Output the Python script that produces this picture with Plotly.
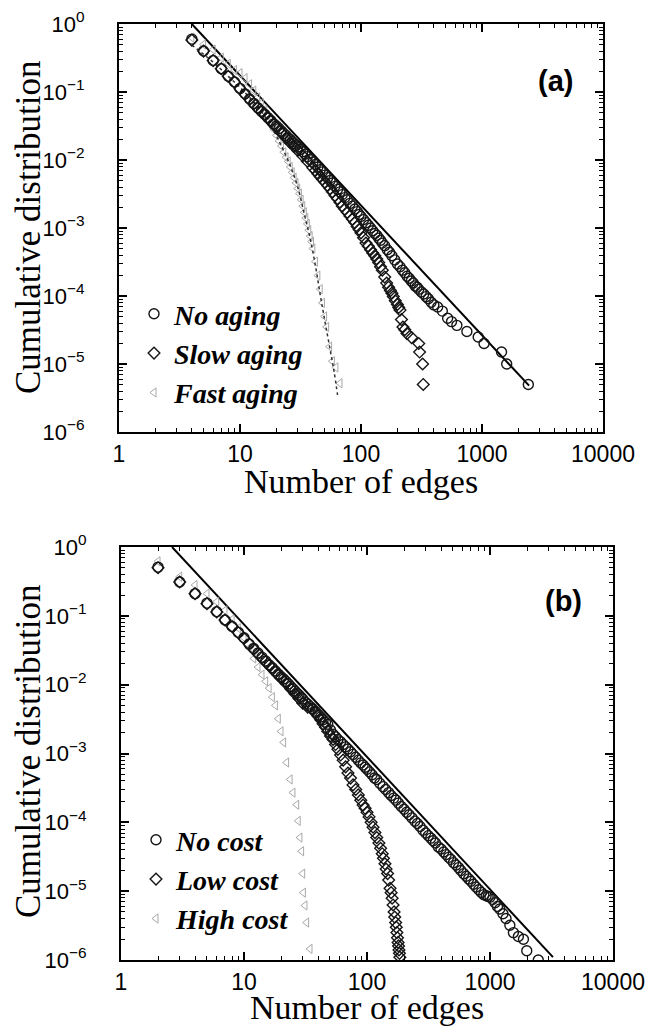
import plotly.graph_objects as go

# The page body adds an 8 px margin, so the figure is drawn 8 px smaller
# and all layout positions below are given in the reference's screen pixels.
OFF = 8
W, H = 657 - OFF, 1030 - OFF

def px(x):
    return (x - OFF) / W

def py(y):
    return 1 - (y - OFF) / H

# ---------------- Panel (a) data ----------------
a_noaging_x = [4, 5, 6, 7, 8, 9, 10, 11, 12, 13, 14, 15, 16, 17, 18, 19, 20, 21, 22, 23, 24, 25,
               26, 27, 28, 29, 30, 31.5, 33, 34.5, 36, 38, 40, 42, 44, 46, 48, 50.5, 53, 55.5,
               58, 61, 64, 67, 70, 73.5, 77, 81, 85, 89, 93, 96.5, 100, 105, 110, 115, 120, 125,
               130, 135, 140, 145, 150, 157, 165, 172, 180, 190, 200, 210, 220, 230, 240, 250,
               260, 270, 280, 290, 300, 315, 330, 345, 360, 380, 400, 430, 470, 520, 560, 620,
               750, 930, 1040, 1450, 1600, 2415]
a_noaging_y = [0.60, 0.40, 0.29, 0.22, 0.17, 0.14, 0.113, 0.094, 0.079, 0.068, 0.059, 0.052,
               0.047, 0.042, 0.038, 0.034, 0.0316, 0.029, 0.0266, 0.0245, 0.0229, 0.0211, 0.020,
               0.0186, 0.0174, 0.0164, 0.0155, 0.0143, 0.0132, 0.0122, 0.0112, 0.0102, 0.0093,
               0.0086, 0.0079, 0.0072, 0.0067, 0.006, 0.0055, 0.005, 0.0046, 0.0041, 0.0037,
               0.0034, 0.0031, 0.0028, 0.0026, 0.0023, 0.0021, 0.0019, 0.00174, 0.00158, 0.00148,
               0.00133, 0.0012, 0.0011, 0.0010, 0.00091, 0.00083, 0.00078, 0.00071, 0.00066,
               0.0006, 0.00055, 0.00048, 0.00044, 0.00039, 0.00034, 0.000295, 0.00027, 0.00024,
               0.00022, 0.000195, 0.000182, 0.000166, 0.000155, 0.000141, 0.000135, 0.000126,
               0.000115, 0.000107, 9.8e-5, 9.1e-5, 8.1e-5, 7.4e-5, 6.9e-5, 6.0e-5, 4.7e-5,
               4.2e-5, 3.7e-5, 3.0e-5, 2.5e-5, 2.0e-5, 1.5e-5, 1.0e-5, 5.0e-6]

a_slow_x = [4, 5, 6, 7, 8, 9, 10, 11, 12, 13, 14, 15, 16, 17, 18, 19, 20, 22, 24, 26, 28, 30,
            33, 36, 40, 42, 44, 46, 48, 50.5, 53, 55.5, 58, 61, 64, 67, 70, 73.5, 77, 81, 85, 89,
            93, 96.5, 100, 105, 110, 115, 120, 125, 130, 135, 140, 145, 150, 157, 163, 169, 175,
            180, 185, 192, 200, 205, 210, 216, 222, 230, 240, 262, 300, 305, 323, 327]
a_slow_y = [0.58, 0.40, 0.29, 0.22, 0.17, 0.14, 0.112, 0.093, 0.078, 0.067, 0.058, 0.051,
            0.046, 0.041, 0.037, 0.033, 0.030, 0.025, 0.021, 0.018, 0.0158, 0.0138, 0.0115,
            0.0096, 0.0077, 0.0070, 0.0063, 0.0057, 0.0052, 0.0047, 0.0042, 0.0038, 0.0034,
            0.0030, 0.0027, 0.0024, 0.0021, 0.0019, 0.0017, 0.0015, 0.00135, 0.0012, 0.00105,
            0.00095, 0.00085, 0.00072, 0.0006, 0.00054, 0.00048, 0.00043, 0.00039, 0.00035,
            0.00031, 0.00027, 0.00024, 0.00019, 0.000155, 0.000135, 0.00012, 0.00011, 9.8e-5,
            8.5e-5, 7.5e-5, 6.8e-5, 6.2e-5, 4.5e-5, 3.5e-5, 3.2e-5, 2.8e-5, 2.45e-5, 2.0e-5,
            1.5e-5, 1.0e-5, 5.0e-6]

a_fast_x = [4, 5, 6, 7, 8, 9, 10, 11, 12, 13, 14, 15, 16, 17, 18, 19, 20, 21, 22, 23, 24, 25,
            26, 27, 28, 29, 30, 31, 32, 33, 34, 35, 36, 37, 38, 39, 40, 42, 44, 46, 48, 50, 52,
            55, 58, 62, 67]
a_fast_y = [0.63, 0.50, 0.42, 0.32, 0.26, 0.21, 0.19, 0.16, 0.13, 0.105, 0.083, 0.069, 0.055,
            0.044, 0.035, 0.028, 0.023, 0.019, 0.016, 0.013, 0.011, 0.0095, 0.0079, 0.0066,
            0.0055, 0.0046, 0.0038, 0.0032, 0.0026, 0.0021, 0.0017, 0.0014, 0.00115, 0.00093,
            0.00076, 0.00063, 0.0005, 0.00032, 0.0002, 0.000126, 7.9e-5, 5.0e-5, 3.5e-5,
            1.8e-5, 1.1e-5, 8.9e-6, 5.2e-6]

a_fit_x = [4, 6, 8, 10, 13, 16, 19, 22, 26, 30, 34, 38, 42, 46, 50, 55, 60, 64]
a_fit_y = [0.49, 0.275, 0.17, 0.117, 0.071, 0.044, 0.027, 0.016, 0.0083, 0.004, 0.0016,
           0.0007, 0.00028, 0.000105, 4.5e-5, 1.8e-5, 7.6e-6, 3.5e-6]

a_line_x = [4, 2450]
a_line_y = [1.0, 4.8e-6]

# ---------------- Panel (b) data ----------------
b_nocost_x = [2, 3, 4, 5, 6, 7, 8, 9, 10, 11, 12, 13, 14, 15, 16, 17, 18, 19, 20, 21, 22, 23,
              24, 25, 26, 27, 28, 29, 30, 31.5, 33, 34.5, 36, 38, 40, 42, 44, 46, 48, 50.5, 53,
              55.5, 58, 61, 64, 67, 70, 73.5, 77, 81, 85, 89, 93, 96.5, 100, 105, 110, 115, 120,
              127, 135, 142, 150, 157, 165, 172, 180, 190, 200, 210, 220, 232, 245, 257, 270,
              285, 300, 315, 330, 345, 360, 380, 400, 420, 440, 460, 480, 505, 530, 555, 580,
              610, 640, 670, 700, 735, 770, 810, 850, 890, 930, 965, 1000, 1050, 1100, 1150,
              1200, 1275, 1350, 1450, 1550, 1700, 1870, 1990, 2470]
b_nocost_y = [0.51, 0.31, 0.21, 0.153, 0.115, 0.087, 0.070, 0.0575, 0.048, 0.039, 0.0335,
              0.0288, 0.0251, 0.0221, 0.0195, 0.0176, 0.0158, 0.0143, 0.013, 0.0121, 0.0111,
              0.0102, 0.0094, 0.0087, 0.0081, 0.0075, 0.0071, 0.0066, 0.0062, 0.0056, 0.0052,
              0.0048, 0.0045, 0.0041, 0.0037, 0.0034, 0.0031, 0.00285, 0.00266, 0.0022, 0.0019,
              0.00175, 0.0016, 0.00148, 0.00135, 0.00125, 0.00116, 0.00106, 0.00097, 0.00088,
              0.0008, 0.00073, 0.00068, 0.00063, 0.00059, 0.00054, 0.00049, 0.00044, 0.00042,
              0.00037, 0.00033, 0.0003, 0.00027, 0.000245, 0.000225, 0.00021, 0.00019, 0.00017,
              0.000155, 0.00014, 0.000129, 0.000116, 0.000104, 9.6e-5, 8.7e-5, 7.7e-5, 7.0e-5,
              6.4e-5, 5.9e-5, 5.4e-5, 5.0e-5, 4.4e-5, 4.1e-5, 3.7e-5, 3.4e-5, 3.1e-5, 2.9e-5,
              2.6e-5, 2.4e-5, 2.2e-5, 2.0e-5, 1.8e-5, 1.65e-5, 1.51e-5, 1.39e-5, 1.26e-5,
              1.15e-5, 1.05e-5, 9.6e-6, 8.9e-6, 8.6e-6, 8.4e-6, 8.2e-6, 7.6e-6, 6.8e-6, 6.0e-6,
              5.5e-6, 4.7e-6, 4.0e-6, 3.2e-6, 2.5e-6, 2.2e-6, 2.0e-6, 1.36e-6, 1.0e-6]

b_low_x = [2, 3, 4, 5, 6, 7, 8, 9, 10, 11, 12, 13, 14, 15, 16, 17, 18, 19, 20, 22, 24, 26, 28,
           30, 33, 36, 38, 40, 42, 44, 46, 48, 50.5, 53, 55.5, 58, 61, 64, 67, 70, 73.5, 77, 81,
           85, 89, 93, 96.5, 100, 104, 108, 112, 116, 120, 125, 129, 133, 136, 140, 143, 147,
           150, 154, 157, 160, 163, 166, 168, 171, 173, 175, 177, 179, 180.5, 182, 183.5, 185]
b_low_y = [0.50, 0.31, 0.21, 0.15, 0.114, 0.087, 0.07, 0.057, 0.047, 0.039, 0.033, 0.028,
           0.0245, 0.0215, 0.019, 0.017, 0.0152, 0.0137, 0.0124, 0.0104, 0.0087, 0.0074, 0.0063,
           0.0054, 0.0047, 0.0044, 0.0039, 0.0035, 0.0031, 0.0027, 0.0024, 0.0021, 0.0018,
           0.0016, 0.00135, 0.00115, 0.00095, 0.0008, 0.00064, 0.00052, 0.00044, 0.00035,
           0.0003, 0.00025, 0.00021, 0.000178, 0.00016, 0.00014, 0.00012, 0.0001, 8.5e-5,
           7.1e-5, 6.0e-5, 5.0e-5, 4.2e-5, 3.5e-5, 3.0e-5, 2.5e-5, 2.1e-5, 1.8e-5, 1.45e-5,
           1.1e-5, 9.5e-6, 7.9e-6, 6.3e-6, 5.0e-6, 4.2e-6, 3.5e-6, 3.0e-6, 2.5e-6, 2.1e-6,
           1.8e-6, 1.6e-6, 1.4e-6, 1.25e-6, 1.1e-6]

b_high_x = [2, 3, 4, 5, 6, 7, 8, 9, 10, 11, 12, 13, 14, 15, 16, 17, 18, 19, 20, 21, 22.2, 23.7,
            25, 26.8, 27.6, 28.5, 29.4, 30, 30.4, 31.3, 32.3, 34.4]
b_high_y = [0.62, 0.37, 0.28, 0.21, 0.16, 0.12, 0.089, 0.066, 0.048, 0.034, 0.024, 0.018,
            0.014, 0.0112, 0.0089, 0.0066, 0.005, 0.0032, 0.0021, 0.00145, 0.00074, 0.00042,
            0.00027, 0.00018, 0.000105, 6.0e-5, 3.8e-5, 1.8e-5, 9.5e-6, 6.2e-6, 3.5e-6, 1.45e-6]

b_line_x = [2.6, 3250]
b_line_y = [1.0, 1.1e-6]

x_tickvals = [1, 10, 100, 1000, 10000]
x_ticktext = ["1", "10", "100", "1000", "10000"]
y_tickvals = [1, 1e-1, 1e-2, 1e-3, 1e-4, 1e-5, 1e-6]
y_ticktext = ["10<sup>0</sup>", "10<sup>\u22121</sup>", "10<sup>\u22122</sup>",
              "10<sup>\u22123</sup>", "10<sup>\u22124</sup>", "10<sup>\u22125</sup>",
              "10<sup>\u22126</sup>"]

names_a = ["No aging", "Slow aging", "Fast aging"]
names_b = ["No cost", "Low cost", "High cost"]

SANS = "Liberation Sans, Arial, sans-serif"
SERIF = "Liberation Serif, Times New Roman, serif"

fig = go.Figure()

circ = dict(symbol="circle-open", size=10, color="#151515", line=dict(width=1.4, color="#151515"))
diam = dict(symbol="diamond-open", size=9, color="#151515", line=dict(width=1.4, color="#151515"))
tri = dict(symbol="triangle-left-open", size=8, color="#a8a8a8", line=dict(width=1, color="#a8a8a8"))

# Panel (a)
fig.add_trace(go.Scatter(x=a_line_x, y=a_line_y, mode="lines", line=dict(color="black", width=2),
                         showlegend=False, xaxis="x", yaxis="y"))
fig.add_trace(go.Scatter(x=a_fast_x, y=a_fast_y, mode="markers", marker=tri,
                         name="<b><i>" + names_a[2] + "</i></b>", legend="legend", legendrank=3,
                         xaxis="x", yaxis="y"))
fig.add_trace(go.Scatter(x=a_fit_x, y=a_fit_y, mode="lines", line=dict(color="#333", width=1.5, dash="dot"),
                         line_shape="spline", showlegend=False, xaxis="x", yaxis="y"))
fig.add_trace(go.Scatter(x=a_slow_x, y=a_slow_y, mode="markers", marker=diam,
                         name="<b><i>" + names_a[1] + "</i></b>", legend="legend", legendrank=2,
                         xaxis="x", yaxis="y"))
fig.add_trace(go.Scatter(x=a_noaging_x, y=a_noaging_y, mode="markers", marker=circ,
                         name="<b><i>" + names_a[0] + "</i></b>", legend="legend", legendrank=1,
                         xaxis="x", yaxis="y"))

# Panel (b)
fig.add_trace(go.Scatter(x=b_line_x, y=b_line_y, mode="lines", line=dict(color="black", width=2),
                         showlegend=False, xaxis="x2", yaxis="y2"))
fig.add_trace(go.Scatter(x=b_high_x, y=b_high_y, mode="markers", marker=tri,
                         name="<b><i>" + names_b[2] + "</i></b>", legend="legend2", legendrank=3,
                         xaxis="x2", yaxis="y2"))
fig.add_trace(go.Scatter(x=b_low_x, y=b_low_y, mode="markers", marker=diam,
                         name="<b><i>" + names_b[1] + "</i></b>", legend="legend2", legendrank=2,
                         xaxis="x2", yaxis="y2"))
fig.add_trace(go.Scatter(x=b_nocost_x, y=b_nocost_y, mode="markers", marker=circ,
                         name="<b><i>" + names_b[0] + "</i></b>", legend="legend2", legendrank=1,
                         xaxis="x2", yaxis="y2"))

def xax(domain, anchor):
    return dict(type="log", range=[0, 4], domain=domain, anchor=anchor, automargin=False,
                showline=True, linecolor="black", linewidth=2, mirror="allticks",
                ticks="inside", ticklen=8, tickwidth=1.5, tickcolor="black",
                tickvals=x_tickvals, ticktext=x_ticktext, showgrid=False, zeroline=False,
                tickfont=dict(family=SANS, size=23, color="black"), ticklabelstandoff=0,
                minor=dict(ticks="inside", ticklen=4, tickwidth=1, tickcolor="black",
                           dtick="D1", showgrid=False))

def yax(domain, anchor):
    return dict(type="log", range=[-6, 0], domain=domain, anchor=anchor, automargin=False,
                showline=True, linecolor="black", linewidth=2, mirror="allticks",
                ticks="inside", ticklen=8, tickwidth=1.5, tickcolor="black",
                tickvals=y_tickvals, ticktext=y_ticktext, showgrid=False, zeroline=False,
                tickfont=dict(family=SANS, size=22, color="black"), ticklabelstandoff=28,
                minor=dict(ticks="inside", ticklen=4, tickwidth=1, tickcolor="black",
                           dtick="D1", showgrid=False))

fig.update_layout(
    width=W, height=H, margin=dict(l=0, r=0, t=0, b=0, autoexpand=False),
    paper_bgcolor="white", plot_bgcolor="white",
    xaxis=xax([px(119), px(603)], "y"),
    yaxis=yax([py(432), py(24)], "x"),
    xaxis2=xax([px(121), px(613)], "y2"),
    yaxis2=yax([py(960), py(547)], "x2"),
    legend=dict(x=px(134), y=py(289), xanchor="left", yanchor="top",
                bgcolor="rgba(0,0,0,0)", font=dict(family=SERIF, size=28, color="black"),
                itemsizing="trace", tracegroupgap=0),
    legend2=dict(x=px(136), y=py(815), xanchor="left", yanchor="top",
                 bgcolor="rgba(0,0,0,0)", font=dict(family=SERIF, size=28, color="black"),
                 itemsizing="trace", tracegroupgap=0),
    annotations=[
        dict(text="<b>(a)</b>", x=px(555), y=py(81), xref="paper", yref="paper", showarrow=False,
             font=dict(family=SANS, size=29, color="black"), xanchor="center", yanchor="middle"),
        dict(text="<b>(b)</b>", x=px(563), y=py(601), xref="paper", yref="paper", showarrow=False,
             font=dict(family=SANS, size=29, color="black"), xanchor="center", yanchor="middle"),
        dict(text="Cumulative distribution", x=px(28), y=py(228), xref="paper", yref="paper",
             showarrow=False, textangle=-90, font=dict(family=SERIF, size=35, color="black"),
             xanchor="center", yanchor="middle"),
        dict(text="Number of edges", x=px(361), y=py(482), xref="paper", yref="paper",
             showarrow=False, font=dict(family=SERIF, size=34, color="black"),
             xanchor="center", yanchor="middle"),
        dict(text="Cumulative distribution", x=px(28), y=py(752), xref="paper", yref="paper",
             showarrow=False, textangle=-90, font=dict(family=SERIF, size=35, color="black"),
             xanchor="center", yanchor="middle"),
        dict(text="Number of edges", x=px(367), y=py(1007), xref="paper", yref="paper",
             showarrow=False, font=dict(family=SERIF, size=34, color="black"),
             xanchor="center", yanchor="middle"),
    ],
)

fig.write_html("out.html")
